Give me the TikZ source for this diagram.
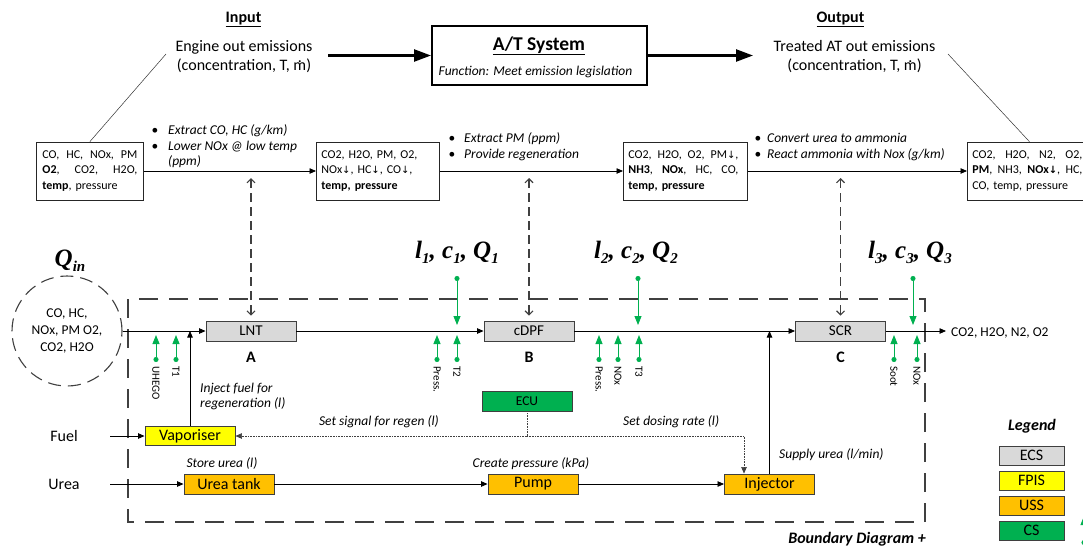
\documentclass[tikz,border=0pt]{standalone}
\usepackage{fontspec}
\usepackage{graphicx}
\setmainfont{Carlito}
\newfontfamily\symfont{DejaVu Sans}
\newfontfamily\serifbi{Liberation Serif}
\usetikzlibrary{arrows.meta}

\definecolor{ecsgray}{HTML}{D9D9D9}
\definecolor{fpisyellow}{HTML}{FFFF00}
\definecolor{ussorange}{HTML}{FFC000}
\definecolor{csgreen}{HTML}{00B050}
\definecolor{boxedge}{HTML}{3F3F3F}
\definecolor{ctrlgray}{HTML}{404040}

\newcommand\fsz[1]{\fontsize{#1}{#1}\selectfont}
\newcommand\dn{{\symfont\fontsize{10}{10}\selectfont ↓}}
\newcommand\mdot{\ooalign{m\cr\hidewidth\raisebox{0.5em}{.}\hidewidth\cr}}
\newcommand\sbs[1]{\raisebox{-0.22em}{\fontsize{15}{15}\selectfont #1}}
\newcommand\lcq[1]{l\sbs{#1}, c\sbs{#1}, Q\sbs{#1}}
% a line of fixed width with its words spread out
\newcommand\jl[2]{\leavevmode\hbox to #1{#2}}

\tikzset{
  comp/.style={draw=boxedge, line width=0.9pt, minimum width=90pt, minimum height=20pt,
    inner sep=0pt, font=\fsz{15}},
  ecs/.style={comp, fill=ecsgray},
  fpis/.style={comp, fill=fpisyellow, font=\fsz{16}},
  uss/.style={comp, fill=ussorange, font=\fsz{16}},
  cs/.style={comp, fill=csgreen, font=\fsz{13.5}},
  lgbox/.style={comp, minimum width=65pt, minimum height=19pt, font=\fsz{16}},
  gasbox/.style={draw=black!85, line width=0.8pt, minimum height=58pt, inner xsep=5pt,
    inner ysep=0pt, align=left, font=\fontsize{12}{15.5}\selectfont, anchor=west},
  flow/.style={line width=0.8pt, -{Triangle[length=6.5pt,width=5.5pt]}},
  thickflow/.style={line width=2.4pt, -{Triangle[length=17pt,width=12pt]}},
  ctrl/.style={draw=ctrlgray, line width=1.1pt, dash pattern=on 9pt off 5pt,
    {Straight Barb[length=4pt,width=8pt]}-{Straight Barb[length=4pt,width=8pt]}},
  sensor/.style={draw=csgreen, line width=0.9pt,
    {Circle[length=5pt]}-{Triangle[length=9pt,width=7pt]}},
  sensorlbl/.style={rotate=-90, anchor=west, font=\fsz{11}, inner sep=0pt},
  note/.style={font=\itshape\fsz{13.5}, inner sep=0pt},
  plain/.style={font=\fsz{16}, inner sep=0pt},
  gastext/.style={font=\fsz{13.5}, inner sep=0pt},
  sig/.style={draw=black!75, line width=0.6pt, densely dotted},
  sigtip/.style={sig, -{Triangle[length=6.5pt,width=5.5pt]}},
  boundary/.style={draw=ctrlgray, line width=1.5pt, dash pattern=on 19pt off 11pt},
  bigsym/.style={font=\serifbi\bfseries\itshape\fsz{25}, inner sep=0pt},
  letter/.style={font=\bfseries\fsz{16}, inner sep=0pt, anchor=base},
  link/.style={draw=black!80, line width=0.5pt}
}

\begin{document}
\begin{tikzpicture}[x=1pt, y=-1pt]
\useasboundingbox (0,0) rectangle (1083,550);

% ---------- system level: input -> A/T system -> output ----------
\node[plain, anchor=base, font=\bfseries\fsz{16}] (intitle) at (243.5,22) {\underline{Input}};
\node[plain, anchor=base] (eng1) at (244,51) {Engine out emissions};
\node[plain, anchor=base] (eng2) at (244,70) {(concentration, T, \mdot)};
\node[plain, anchor=base, font=\bfseries\fsz{16}] (outtitle) at (840.5,22) {\underline{Output}};
\node[plain, anchor=base] (trt1) at (854.5,51) {Treated AT out emissions};
\node[plain, anchor=base] (trt2) at (854.5,70) {(concentration, T, \mdot)};

\node[draw, line width=2pt, minimum width=215pt, minimum height=59pt, inner sep=0pt]
  (ats) at (539.5,55.5) {};
\node[anchor=base, inner sep=0pt, font=\bfseries\fsz{19.5}] (atstitle) at (539,50) {\underline{A/T System}};
\node[anchor=base, inner sep=0pt, font=\itshape\fsz{13.5}] (atsfun) at (535.5,75) {Function: Meet emission legislation};

\coordinate (inarr) at (328,55.5);
\coordinate (outarr) at (753,55.5);
\draw[thickflow] (inarr) -- (ats.west);
\draw[thickflow] (ats.east) -- (outarr);

% ---------- gas composition along the line ----------
\node[gasbox, text width=95pt, inner xsep=6pt] (box1) at (36,171)
  {\jl{95pt}{CO,\hfill HC,\hfill NOx,\hfill PM}\\
   \jl{95pt}{\textbf{O2},\hfill CO2,\hfill H2O,}\\
   \textbf{temp}, pressure};
\node[gasbox, text width=113pt] (box2) at (316,171)
  {CO2, H2O, PM, O2,\\
   NOx\dn, HC\dn, CO\dn,\\
   \textbf{temp, pressure}};
\node[gasbox, text width=114pt] (box3) at (623,171)
  {\jl{110pt}{CO2,\hfill H2O,\hfill O2,\hfill PM\dn,}\\
   \jl{110pt}{\textbf{NH3},\hfill \textbf{NOx},\hfill HC,\hfill CO,}\\
   \textbf{temp, pressure}};
\node[gasbox, text width=114pt] (box4) at (967,171)
  {\jl{110pt}{CO2,\hfill H2O,\hfill N2,\hfill O2,}\\
   \jl{110pt}{\textbf{PM},\hfill NH3,\hfill \textbf{NOx\dn},\hfill HC,}\\
   CO, temp, pressure};

\draw[flow] (box1.east) -- (box2.west);
\draw[flow] (box2.east) -- (box3.west);
\draw[flow] (box3.east) -- (box4.west);

\coordinate (inlink) at (166,54);
\coordinate (outlink) at (948,54);
\draw[link] (inlink) -- (box1.north);
\draw[link] (outlink) -- (box4.north);

% functions of each stage
\node[note, anchor=base] (b11) at (155,134) {\upshape •};
\node[note, anchor=base west] (f11) at (168,134) {Extract CO, HC (g/km)};
\node[note, anchor=base] (b12) at (155,150) {\upshape •};
\node[note, anchor=base west] (f12) at (168,150) {Lower NOx @ low temp};
\node[note, anchor=base west] (f13) at (168,165) {(ppm)};

\node[note, anchor=base] (b21) at (452,142) {\upshape •};
\node[note, anchor=base west] (f21) at (464,142) {Extract PM (ppm)};
\node[note, anchor=base] (b22) at (452,158) {\upshape •};
\node[note, anchor=base west] (f22) at (464,158) {Provide regeneration};

\node[note, anchor=base] (b31) at (758,142) {\upshape •};
\node[note, anchor=base west] (f31) at (767,142) {Convert urea to ammonia};
\node[note, anchor=base] (b32) at (758,158) {\upshape •};
\node[note, anchor=base west] (f32) at (767,158) {React ammonia with Nox (g/km)};

% ---------- boundary of the after-treatment system ----------
\draw[boundary] (128,299) rectangle (925,522);

% ---------- inflow ----------
\node[draw=ctrlgray, line width=1.1pt, dash pattern=on 13pt off 7pt, circle,
  minimum size=110pt, inner sep=0pt] (qin) at (67,331) {};
\node[gastext, anchor=base] (qa) at (67,317.5) {CO, HC,};
\node[gastext, anchor=base] (qb) at (67,334.5) {NOx, PM O2,};
\node[gastext, anchor=base] (qc) at (67,351.5) {CO2, H2O};
\node[bigsym, anchor=base] (qinlbl) at (70,266) {Q\sbs{in}};

% ---------- main exhaust line ----------
\node[ecs] (lnt) at (251,331) {LNT};
\node[ecs] (dpf) at (529,331) {cDPF};
\node[ecs] (scr) at (840.5,331) {SCR};
\node[letter] (la) at (251,362) {A};
\node[letter] (lb) at (529,362) {B};
\node[letter] (lc) at (840.5,362) {C};
\node[gastext, anchor=base west] (exittext) at (951,336) {CO2, H2O, N2, O2};

\draw[flow] (qin.east) -- (lnt.west);
\draw[flow] (lnt.east) -- (dpf.west);
\draw[flow] (dpf.east) -- (scr.west);
\draw[flow, shorten >=5pt] (scr.east) -- (exittext.west |- scr.east);

% functional links between the two levels
\coordinate (c1) at (251,178);
\coordinate (c2) at (529,178);
\coordinate (c3) at (840.5,178);
\draw[ctrl, shorten >=5pt] (c1) -- (lnt.north);
\draw[ctrl, shorten >=5pt] (c2) -- (dpf.north);
\draw[ctrl, shorten >=5pt] (c3) -- (scr.north);

% state labels
\node[bigsym, anchor=base] (s1) at (457,258) {\lcq{1}};
\node[bigsym, anchor=base] (s2) at (636,258) {\lcq{2}};
\node[bigsym, anchor=base] (s3) at (910,258) {\lcq{3}};

% sensors / states acting on the line from above
\foreach \x [count=\i] in {457,638,913} {
  \coordinate (td\i) at (\x,276);
  \coordinate (tt\i) at (\x,331);
  \draw[sensor, shorten >=6pt] (td\i) -- (tt\i);
}

% sensors below the line
\foreach \x/\lab [count=\i] in {156/UHEGO, 176/T1, 437/Press., 457/T2, 599/Press.,
    618/NOx, 639/T3, 894/Soot, 917/NOx} {
  \coordinate (sd\i) at (\x,362);
  \coordinate (st\i) at (\x,331);
  \draw[sensor, shorten >=4pt] (sd\i) -- (st\i);
  \node[sensorlbl] (sl\i) at (\x,366) {\lab};
}

% ---------- fuel path ----------
\node[plain, anchor=base] (fuel) at (64,441) {Fuel};
\node[fpis, minimum height=19pt] (vap) at (190,436) {Vaporiser};
\coordinate (fuelsrc) at (110,436);
\draw[flow] (fuelsrc) -- (vap.west);
\draw[flow] (vap.north) -- (vap.north |- lnt.west);
\node[note, anchor=base west] (nvap1) at (200,392) {Inject fuel for};
\node[note, anchor=base west] (nvap2) at (200,407) {regeneration (l)};

% ---------- urea path ----------
\node[plain, anchor=base] (urea) at (64,489) {Urea};
\node[uss] (tank) at (229,484) {Urea tank};
\node[uss] (pump) at (533,484) {Pump};
\node[uss] (inj) at (769.5,484) {Injector};
\coordinate (ureasrc) at (110,484);
\draw[flow] (ureasrc) -- (tank.west);
\draw[flow] (tank.east) -- (pump.west);
\draw[flow] (pump.east) -- (inj.west);
\draw[flow] (inj.north) -- (inj.north |- scr.west);
\node[note, anchor=base] (ntank) at (222,467) {Store urea (l)};
\node[note, anchor=base] (npump) at (531,467) {Create pressure (kPa)};
\node[note, anchor=base west] (ninj) at (779,458) {Supply urea (l/min)};

% ---------- control unit ----------
\node[cs] (ecu) at (527,401) {ECU};
\coordinate (ecuj) at (527,436);
\coordinate (dosec) at (744,436);
\draw[sig] (ecu.south) -- (ecuj);
\draw[sigtip] (ecuj) -- (vap.east);
\draw[sigtip] (ecuj) -- (dosec) -- (dosec |- inj.north);
\node[note, anchor=base east] (nregen) at (439,425) {Set signal for regen (l)};
\node[note, anchor=base west] (ndose) at (623,425) {Set dosing rate (l)};

\node[anchor=base, inner sep=0pt, font=\bfseries\itshape\fsz{16}] (bdlbl) at (857,543) {Boundary Diagram +};

% ---------- legend ----------
\node[anchor=base, inner sep=0pt, font=\bfseries\itshape\fsz{16}] (lgtitle) at (1032,430) {Legend};
\node[lgbox, fill=ecsgray] (lg1) at (1031.5,455.5) {ECS};
\node[lgbox, fill=fpisyellow] (lg2) at (1031.5,480.5) {FPIS};
\node[lgbox, fill=ussorange] (lg3) at (1031.5,505.5) {USS};
\node[lgbox, fill=csgreen] (lg4) at (1031.5,530.5) {CS};
\coordinate (lgsd) at (1084,545);
\coordinate (lgst) at (1084,516);
\draw[sensor] (lgsd) -- (lgst);

\end{tikzpicture}
\end{document}
